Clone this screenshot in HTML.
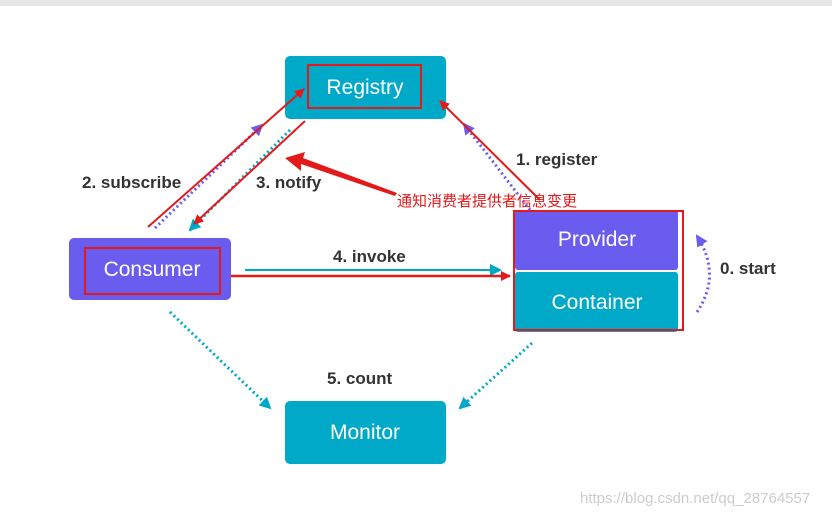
<!DOCTYPE html>
<html><head><meta charset="utf-8"><style>
body{margin:0;width:832px;height:515px;background:#fff;overflow:hidden}
svg{display:block}
text{font-family:"Liberation Sans","Noto Sans CJK SC",sans-serif}
</style></head><body>
<svg width="832" height="515" viewBox="0 0 832 515">
<defs>
<marker id="rh" markerWidth="10" markerHeight="10" refX="9" refY="5" orient="auto" markerUnits="userSpaceOnUse"><path d="M0,0 L10,5 L0,10 z" fill="#e21a1a"/></marker>
<marker id="th" markerWidth="12" markerHeight="12" refX="10" refY="6" orient="auto" markerUnits="userSpaceOnUse"><path d="M0,0 L12,6 L0,12 z" fill="#00a8c8"/></marker>
<marker id="ph" markerWidth="12" markerHeight="12" refX="10" refY="6" orient="auto" markerUnits="userSpaceOnUse"><path d="M0,0 L12,6 L0,12 z" fill="#6b5cf0"/></marker>
</defs>
<rect x="0" y="0" width="832" height="6" fill="#e6e6e6"/>
<rect x="285" y="56" width="161" height="63" rx="5" fill="#00a9c8"/>
<rect x="308" y="65" width="113" height="43" fill="none" stroke="#e21a1a" stroke-width="2"/>
<text x="365" y="94" font-size="21" fill="#fff" text-anchor="middle">Registry</text>
<rect x="69" y="238" width="162" height="62" rx="5" fill="#6b5cf0"/>
<rect x="85" y="248" width="135" height="46" fill="none" stroke="#e21a1a" stroke-width="2"/>
<text x="152" y="276" font-size="21" fill="#fff" text-anchor="middle">Consumer</text>
<rect x="515" y="210" width="163" height="60" rx="3" fill="#6b5cf0"/>
<rect x="515" y="272" width="163" height="60" rx="3" fill="#00a9c8"/>
<rect x="514" y="211" width="169" height="119" fill="none" stroke="#e21a1a" stroke-width="2"/>
<text x="597" y="246" font-size="21" fill="#fff" text-anchor="middle">Provider</text>
<text x="597" y="309" font-size="21" fill="#fff" text-anchor="middle">Container</text>
<rect x="285" y="401" width="161" height="63" rx="5" fill="#00a9c8"/>
<text x="365" y="439" font-size="21" fill="#fff" text-anchor="middle">Monitor</text>
<!-- dotted -->
<line x1="155" y1="228" x2="262" y2="125" stroke="#6b5cf0" stroke-width="3" stroke-dasharray="2,3" marker-end="url(#ph)"/>
<line x1="290" y1="130" x2="190" y2="230" stroke="#00a8c8" stroke-width="3" stroke-dasharray="2,3" marker-end="url(#th)"/>
<line x1="530" y1="210" x2="464" y2="124" stroke="#6b5cf0" stroke-width="3" stroke-dasharray="2,3" marker-end="url(#ph)"/>
<path d="M697,312 Q722,275 697,236" fill="none" stroke="#6b5cf0" stroke-width="3" stroke-dasharray="2,3" marker-end="url(#ph)"/>
<line x1="170" y1="312" x2="270" y2="408" stroke="#00a8c8" stroke-width="3" stroke-dasharray="2,3" marker-end="url(#th)"/>
<line x1="532" y1="343" x2="460" y2="408" stroke="#00a8c8" stroke-width="3" stroke-dasharray="2,3" marker-end="url(#th)"/>
<line x1="245" y1="270" x2="500" y2="270" stroke="#00a8c8" stroke-width="2" marker-end="url(#th)"/>
<!-- red -->
<line x1="148" y1="227" x2="304" y2="89" stroke="#e21a1a" stroke-width="2" marker-end="url(#rh)"/>
<line x1="305" y1="121" x2="194" y2="224" stroke="#e21a1a" stroke-width="2" marker-end="url(#rh)"/>
<line x1="540" y1="200" x2="440" y2="101" stroke="#e21a1a" stroke-width="2" marker-end="url(#rh)"/>
<line x1="231" y1="276" x2="510" y2="276" stroke="#e21a1a" stroke-width="2.5" marker-end="url(#rh)"/>
<path d="M285,158 L305,152 L303,158 L397,193 L395,196 L301,164 L301,171 z" fill="#e21a1a"/>
<!-- labels -->
<text x="82" y="188" font-size="17" font-weight="bold" fill="#333">2. subscribe</text>
<text x="256" y="188" font-size="17" font-weight="bold" fill="#333">3. notify</text>
<text x="516" y="165" font-size="17" font-weight="bold" fill="#333">1. register</text>
<text x="397" y="206" font-size="15" fill="#e21a1a">通知消费者提供者信息变更</text>
<text x="333" y="262" font-size="17" font-weight="bold" fill="#333">4. invoke</text>
<text x="720" y="274" font-size="17" font-weight="bold" fill="#333">0. start</text>
<text x="327" y="384" font-size="17" font-weight="bold" fill="#333">5. count</text>
<text x="580" y="503" font-size="15" fill="#ccc">https://blog.csdn.net/qq_28764557</text>
</svg>
</body></html>
